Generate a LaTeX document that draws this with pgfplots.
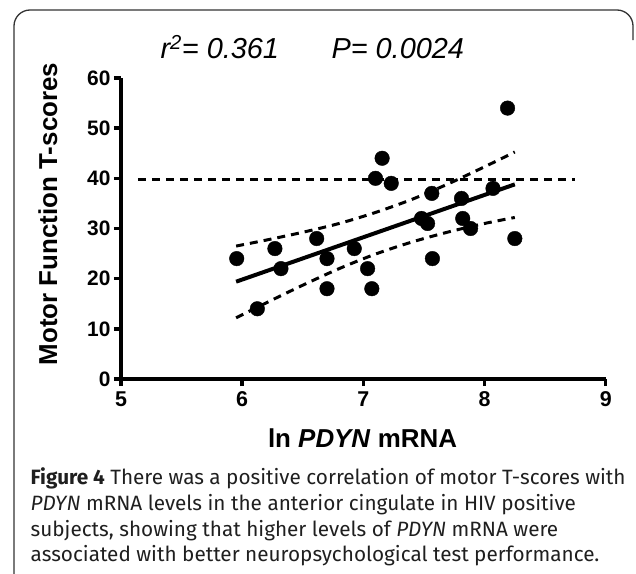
\documentclass[border=0pt]{standalone}
\usepackage{fontspec}
\setmainfont{Liberation Sans}
\newfontfamily\capfont{Fira Sans}
\usepackage{pgfplots}
\pgfplotsset{compat=1.18}

% observed points
\pgfplotstableread{
x y
5.955 24
6.125 14
6.27 26
6.32 22
6.615 28
6.70 24
6.70 18
6.925 26
7.035 22
7.07 18
7.10 40
7.155 44
7.23 39
7.48 32
7.53 31
7.565 37
7.57 24
7.81 36
7.82 32
7.885 30
8.07 38
8.19 54
8.25 28
}\pts

\begin{document}
\begin{tikzpicture}
\useasboundingbox (0,0) rectangle (636bp,-574bp);
% frame round the figure
\draw[line width=1.3bp, color=black!80, rounded corners=16bp]
  (14bp,-574bp) -- (14bp,-10bp) -- (633bp,-10bp) -- (633bp,-40bp);

\begin{axis}[
    at={(121bp,-379bp)}, anchor=south west,
    scale only axis,
    width=484.7bp, height=301bp,
    xmin=5, xmax=9, ymin=0, ymax=60,
    axis lines=left,
    axis line style={-, line width=3.7bp},
    xtick={5,6,7,8,9},
    ytick={0,10,20,30,40,50,60},
    tick align=outside,
    major tick length=7bp,
    tick style={line width=3.5bp, color=black},
    clip=false,
    /pgf/number format/assume math mode=true,
    xticklabel style={font=\fontsize{21.5}{21.5}\selectfont\bfseries, yshift=-2bp},
    yticklabel style={font=\fontsize{21}{21}\selectfont\bfseries},
]
% normal threshold
\addplot[black, line width=3bp, dash pattern=on 8bp off 6bp] coordinates {(5.14,39.7) (8.745,39.7)};
% 95% confidence band
\addplot[black, line width=3bp, dash pattern=on 8bp off 6bp, smooth] coordinates {
(5.95,26.5) (6.2,27.7) (6.5,29.25) (6.8,31.0) (7.1,33.2) (7.4,35.8) (7.7,38.9) (8.0,42.3) (8.25,45.25)};
\addplot[black, line width=3bp, dash pattern=on 8bp off 6bp, smooth] coordinates {
(5.95,12.2) (6.2,15.2) (6.5,18.7) (6.8,22.0) (7.1,24.9) (7.4,27.3) (7.7,29.3) (8.0,31.0) (8.25,32.2)};
% regression line
\addplot[black, line width=4bp] coordinates {(5.95,19.4) (8.25,38.8)};
% data
\addplot[only marks, mark=*, mark size=7.3bp, black] table {\pts};
\end{axis}

\node[anchor=base west, font=\fontsize{29}{29}\selectfont\itshape] at (157bp,-58bp)
  {r\textsuperscript{2}= 0.361};
\node[anchor=base west, font=\fontsize{29}{29}\selectfont\itshape] at (328bp,-58bp)
  {P= 0.0024};

\node[anchor=base, font=\fontsize{26}{26}\selectfont\bfseries] at (362.5bp,-447bp)
  {ln \textit{PDYN} mRNA};
\node[anchor=base, rotate=90, font=\fontsize{26}{26}\selectfont\bfseries] at (57bp,-214bp)
  {Motor Function T-scores};

\begin{scope}[every node/.style={anchor=base west, inner sep=0pt, font=\capfont\fontsize{20.8}{20.8}\selectfont, color=black!88}]
\node at (30.5bp,-484.5bp) {\textbf{Figure 4} There was a positive correlation of motor T-scores with};
\node at (30.5bp,-510.3bp) {\textit{PDYN} mRNA levels in the anterior cingulate in HIV positive};
\node at (30.5bp,-536.1bp) {subjects, showing that higher levels of \textit{PDYN} mRNA were};
\node at (30.5bp,-561.9bp) {associated with better neuropsychological test performance.};
\end{scope}
\end{tikzpicture}
\end{document}
